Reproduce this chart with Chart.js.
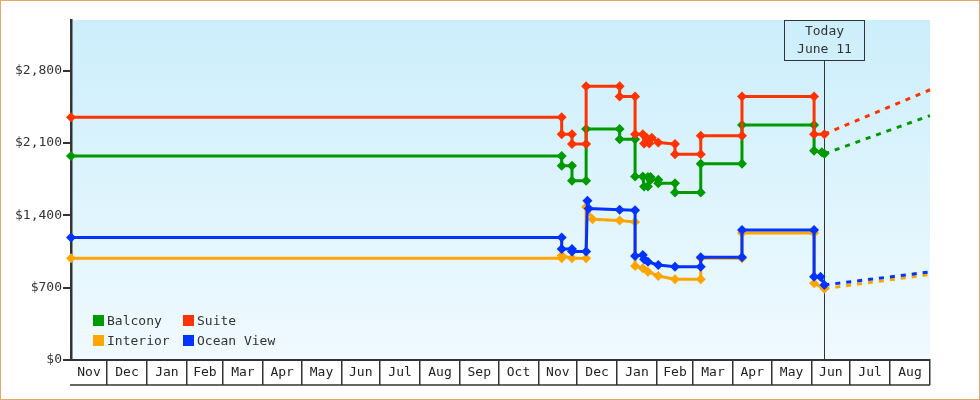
<!DOCTYPE html>
<html>
<head>
<meta charset="utf-8">
<style>
html,body{margin:0;padding:0;background:#fff;}
#wrap{position:relative;width:980px;height:400px;overflow:hidden;}
#chart{position:absolute;left:0;top:0;}
#frame{position:absolute;left:0;top:0;width:980px;height:400px;box-sizing:border-box;border:1px solid #e8a862;pointer-events:none;}
.lg{position:absolute;font:13px 'DejaVu Sans Mono',monospace;color:#333;white-space:nowrap;line-height:15px;}
.lg span.sw{position:absolute;left:0;top:2px;width:11px;height:11px;}
.lg span.tx{position:absolute;left:14px;top:0;}
</style>
<script src="https://cdn.jsdelivr.net/npm/chart.js@4/dist/chart.umd.min.js"></script>
</head>
<body>
<div id="wrap">
  <canvas id="chart" width="980" height="400"></canvas>
  <div id="legend"></div>
  <div id="frame"></div>
</div>
<script>
// ---------- DATA ----------
const axisStart = '2020-11-03';
const monthStarts = ['2020-12-01','2021-01-01','2021-02-01','2021-03-01','2021-04-01','2021-05-01','2021-06-01','2021-07-01','2021-08-01','2021-09-01','2021-10-01','2021-11-01','2021-12-01','2022-01-01','2022-02-01','2022-03-01','2022-04-01','2022-05-01','2022-06-01','2022-07-01','2022-08-01','2022-09-01'];
const monthLabels = ['Nov','Dec','Jan','Feb','Mar','Apr','May','Jun','Jul','Aug','Sep','Oct','Nov','Dec','Jan','Feb','Mar','Apr','May','Jun','Jul','Aug'];
const yTicks = [0, 700, 1400, 2100, 2800];
const yTickLabels = ['$0','$700','$1,400','$2,100','$2,800'];
const yMax = 3290;

const seriesNames = ['Balcony','Suite','Interior','Ocean View'];
const seriesColors = ['#009900','#ff3300','#ffa500','#0033ff'];

const balconyDates  = ['2020-11-03','2021-11-19','2021-11-19','2021-11-27','2021-11-27','2021-12-08','2021-12-08','2022-01-03','2022-01-03','2022-01-15','2022-01-15','2022-01-21','2022-01-22','2022-01-25','2022-01-25','2022-01-27','2022-01-27','2022-02-02','2022-02-02','2022-02-15','2022-02-15','2022-03-07','2022-03-07','2022-04-08','2022-04-08','2022-06-03','2022-06-03','2022-06-09','2022-06-11'];
const balconyPrices = [1975,1975,1880,1880,1735,1735,2235,2235,2135,2135,1775,1775,1680,1680,1770,1770,1745,1745,1710,1710,1620,1620,1900,1900,2275,2275,2025,2010,1995];

const suiteDates  = ['2020-11-03','2021-11-19','2021-11-19','2021-11-27','2021-11-27','2021-12-08','2021-12-08','2022-01-03','2022-01-03','2022-01-15','2022-01-15','2022-01-21','2022-01-22','2022-01-24','2022-01-26','2022-01-28','2022-02-02','2022-02-15','2022-02-15','2022-03-07','2022-03-07','2022-04-08','2022-04-08','2022-06-03','2022-06-03','2022-06-11'];
const suitePrices = [2350,2350,2185,2185,2090,2090,2650,2650,2550,2550,2185,2185,2095,2150,2095,2150,2105,2090,1990,1990,2170,2170,2550,2550,2185,2185];

const interiorDates  = ['2020-11-03','2021-11-19','2021-11-19','2021-11-27','2021-12-08','2021-12-08','2021-12-13','2022-01-03','2022-01-15','2022-01-15','2022-01-21','2022-01-25','2022-02-02','2022-02-15','2022-03-07','2022-03-07','2022-04-08','2022-04-08','2022-06-03','2022-06-03','2022-06-11'];
const interiorPrices = [985,985,1010,985,985,1480,1362,1350,1335,910,888,855,813,781,781,985,985,1228,1228,742,690];

const oceanDates  = ['2020-11-03','2021-11-19','2021-11-19','2021-11-27','2021-11-27','2021-12-08','2021-12-09','2021-12-10','2022-01-03','2022-01-15','2022-01-15','2022-01-21','2022-01-22','2022-01-25','2022-02-02','2022-02-15','2022-03-07','2022-03-07','2022-04-08','2022-04-08','2022-06-03','2022-06-03','2022-06-08','2022-06-11'];
const oceanPrices = [1185,1185,1075,1075,1050,1050,1540,1465,1455,1450,1007,1015,975,950,920,903,903,994,994,1258,1258,806,806,726];

const forecastDates = ['2022-06-11','2022-09-01'];
const balconyForecast  = [1995, 2365];
const suiteForecast    = [2185, 2615];
const interiorForecast = [690, 828];
const oceanForecast    = [726, 852];

const todayDate = '2022-06-11';
const todayLines = ['Today','June 11'];

// ---------- HELPERS ----------
const dayNum = s => { const [y,m,d] = s.split('-').map(Number); return Date.UTC(y, m-1, d) / 864e5; };
const pts = (dates, vals) => dates.map((d,i) => ({x: dayNum(d), y: vals[i]}));

const FONT = "'DejaVu Sans Mono', monospace";
const xMin = dayNum(axisStart);
const bounds = monthStarts.map(dayNum);
const starts = [xMin].concat(bounds.slice(0, -1));
const xTickVals = [];
const xTickText = [];
starts.forEach((s, i) => {
  xTickVals.push((s + bounds[i]) / 2); xTickText.push(monthLabels[i]);
  xTickVals.push(bounds[i]); xTickText.push('');
});

function lineDs(label, color, dates, vals) {
  return {label, data: pts(dates, vals), borderColor: color, backgroundColor: color,
    borderWidth: 3, pointStyle: 'rectRot', pointRadius: 5, pointBorderWidth: 0,
    pointBackgroundColor: color, tension: 0, clip: 6};
}
function fcDs(label, color, vals) {
  return {label, data: pts(forecastDates, vals), borderColor: color, borderWidth: 3,
    borderDash: [5, 6], pointRadius: 0, tension: 0, clip: 6};
}

// ---------- PLUGINS ----------
const bgPlugin = {
  id: 'bg',
  beforeDraw(chart) {
    const {ctx, chartArea: a} = chart;
    const g = ctx.createLinearGradient(0, a.top, 0, a.bottom);
    g.addColorStop(0, '#cceefb');
    g.addColorStop(1, '#f0faff');
    ctx.save(); ctx.fillStyle = g; ctx.fillRect(a.left, a.top, a.right - a.left, a.bottom - a.top); ctx.restore();
  }
};
const boxPlugin = {
  id: 'boxline',
  afterDraw(chart) {
    const {ctx, chartArea: a} = chart;
    const xs = chart.scales.x;
    ctx.save(); ctx.strokeStyle = '#333'; ctx.lineWidth = 1.5;
    ctx.beginPath(); ctx.moveTo(a.left - 1, xs.top + 25); ctx.lineTo(a.right, xs.top + 25); ctx.stroke();
    ctx.restore();
  }
};
const todayPlugin = {
  id: 'today',
  beforeDatasetsDraw(chart) {
    const {ctx, chartArea: a} = chart;
    const x = Math.round(chart.scales.x.getPixelForValue(dayNum(todayDate))) + 0.5;
    const bw = 80, bh = 40, top = a.top + 0.5;
    ctx.save();
    ctx.strokeStyle = '#333'; ctx.lineWidth = 1;
    ctx.beginPath(); ctx.moveTo(x, top + bh); ctx.lineTo(x, a.bottom); ctx.stroke();
    ctx.strokeRect(x - bw/2, top, bw, bh);
    ctx.fillStyle = '#333'; ctx.font = '13px ' + FONT; ctx.textAlign = 'center'; ctx.textBaseline = 'middle';
    ctx.fillText(todayLines[0], x, top + 11);
    ctx.fillText(todayLines[1], x, top + 29);
    ctx.restore();
  }
};

// ---------- CHART ----------
new Chart(document.getElementById('chart'), {
  type: 'line',
  data: {
    datasets: [
      lineDs(seriesNames[3], seriesColors[3], oceanDates, oceanPrices),
      lineDs(seriesNames[2], seriesColors[2], interiorDates, interiorPrices),
      lineDs(seriesNames[1], seriesColors[1], suiteDates, suitePrices),
      lineDs(seriesNames[0], seriesColors[0], balconyDates, balconyPrices),
      fcDs(seriesNames[3] + ' forecast', seriesColors[3], oceanForecast),
      fcDs(seriesNames[2] + ' forecast', seriesColors[2], interiorForecast),
      fcDs(seriesNames[1] + ' forecast', seriesColors[1], suiteForecast),
      fcDs(seriesNames[0] + ' forecast', seriesColors[0], balconyForecast)
    ]
  },
  options: {
    responsive: false, animation: false, devicePixelRatio: 1,
    layout: {padding: {left: 0, top: 20, right: 50, bottom: 15}},
    plugins: {legend: {display: false}, tooltip: {enabled: false}},
    scales: {
      x: {
        type: 'linear', min: xMin, max: bounds[bounds.length - 1],
        afterBuildTicks: ax => { ax.ticks = xTickVals.map(v => ({value: v})); },
        afterFit: s => { s.height = 25; },
        border: {color: '#333', width: 2},
        grid: {drawOnChartArea: false, drawTicks: true, tickLength: 25, lineWidth: 1.5,
               color: c => (c.index % 2 === 1) ? '#333' : 'rgba(0,0,0,0)'},
        ticks: {autoSkip: false, maxRotation: 0, minRotation: 0, padding: -20, color: '#222',
                font: {family: FONT, size: 13}, callback: (v, i) => xTickText[i]}
      },
      y: {
        min: 0, max: yMax,
        afterBuildTicks: ax => { ax.ticks = yTicks.map(v => ({value: v})); },
        afterFit: s => { s.width = 71; },
        border: {color: '#333', width: 2.5},
        grid: {drawOnChartArea: false, tickLength: 8, lineWidth: 2, color: '#333'},
        ticks: {padding: 1, color: '#333', font: {family: FONT, size: 13}, callback: (v, i) => yTickLabels[i]}
      }
    }
  },
  plugins: [bgPlugin, todayPlugin, boxPlugin]
});

// ---------- LEGEND (HTML) ----------
const lgPos = [[93,313],[183,313],[93,333],[183,333]];
const lg = document.getElementById('legend');
seriesNames.forEach((n, i) => {
  const d = document.createElement('div');
  d.className = 'lg';
  d.style.left = lgPos[i][0] + 'px'; d.style.top = lgPos[i][1] + 'px';
  d.innerHTML = '<span class="sw" style="background:' + seriesColors[i] + '"></span><span class="tx"></span>';
  d.querySelector('.tx').textContent = n;
  lg.appendChild(d);
});
</script>
</body>
</html>
